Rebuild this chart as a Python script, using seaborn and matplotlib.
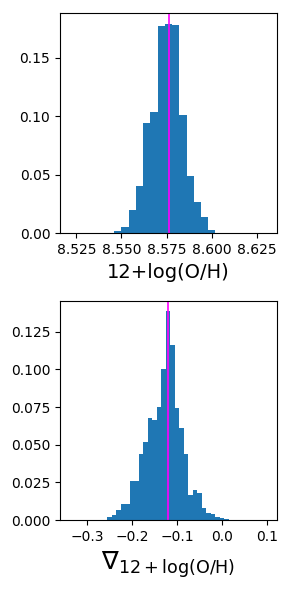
import matplotlib
matplotlib.use("Agg")
import matplotlib.pyplot as plt
import numpy as np
import pandas as pd
import seaborn as sns

# --- data (fraction of samples per bin) ---
oh_bin_start = 8.546
oh_bin_width = 0.004
oh_heights = [0.0023, 0.0057, 0.0203, 0.0400, 0.0940, 0.1034, 0.1774,
              0.1789, 0.1780, 0.1009, 0.0489, 0.0263, 0.0143, 0.0031]
oh_median = 8.5763

grad_bin_start = -0.256
grad_bin_width = 0.01
grad_heights = [0.0020, 0.0033, 0.0066, 0.0106, 0.0106, 0.0259, 0.0259,
                0.0438, 0.0518, 0.0677, 0.0664, 0.0750, 0.1002, 0.1387,
                0.1162, 0.0743, 0.0613, 0.0438, 0.0166, 0.0199, 0.0179,
                0.0080, 0.0046, 0.0040, 0.0020, 0.0013, 0.0007]
grad_median = -0.120

oh_ticks = [8.525, 8.550, 8.575, 8.600, 8.625]
grad_ticks = [-0.3, -0.2, -0.1, 0.0, 0.1]


def draw_hist(ax, start, width, heights, median, xlim):
    edges = start + width * np.arange(len(heights) + 1)
    df = pd.DataFrame({"x": 0.5 * (edges[:-1] + edges[1:]), "w": heights})
    sns.histplot(data=df, x="x", weights="w", bins=edges.tolist(), ax=ax,
                 color="#1f77b4", alpha=1, linewidth=0, edgecolor="none")
    ax.axvline(median, color="magenta", lw=1.2)
    ax.set_xlim(*xlim)
    ax.set_ylabel("")


fig = plt.figure(figsize=(2.9, 5.9), dpi=100)
ax1 = fig.add_axes([0.207, 0.6046, 0.748, 0.3729])
ax2 = fig.add_axes([0.207, 0.1186, 0.748, 0.3717])

draw_hist(ax1, oh_bin_start, oh_bin_width, oh_heights, oh_median, (8.516, 8.636))
ax1.set_xticks(oh_ticks)
ax1.set_xticklabels([f"{t:.3f}" for t in oh_ticks])
ax1.set_xlabel("12+log(O/H)", fontsize=14)

draw_hist(ax2, grad_bin_start, grad_bin_width, grad_heights, grad_median, (-0.3607, 0.121))
ax2.set_xticks(grad_ticks)
ax2.set_xticklabels(["\u22120.3", "\u22120.2", "\u22120.1", "0.0", "0.1"])
ax2.set_xlabel(r"$\nabla_{12+\log(\mathrm{O/H})}$", fontsize=18)

fig.savefig("out.png", dpi=100)
plt.close(fig)
